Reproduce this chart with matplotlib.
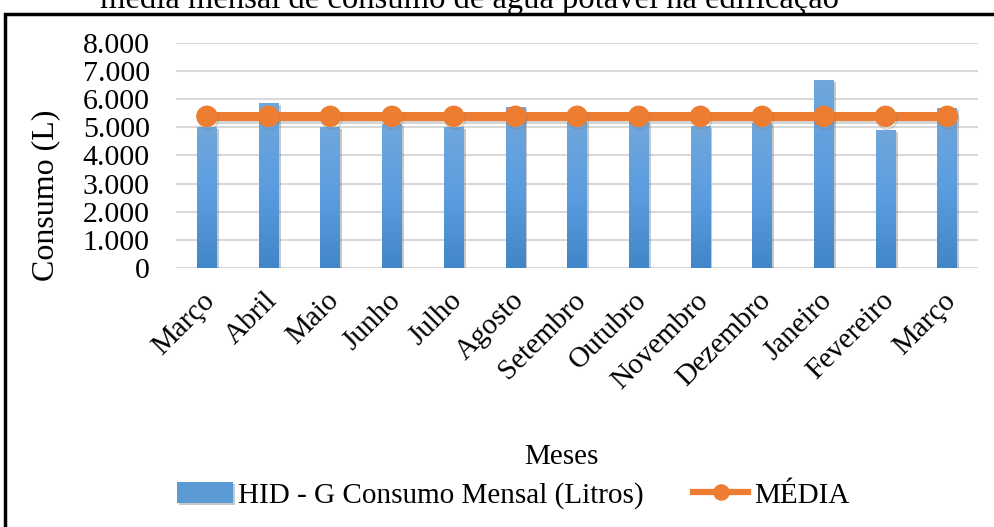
import numpy as np
import matplotlib.pyplot as plt
import matplotlib.patheffects as pe
import matplotlib.transforms as mtransforms
from matplotlib.patches import Rectangle
from matplotlib.colors import LinearSegmentedColormap
from matplotlib.ticker import FuncFormatter

plt.rcParams['font.family'] = ['Liberation Serif', 'DejaVu Serif']

meses = ['Março', 'Abril', 'Maio', 'Junho', 'Julho', 'Agosto', 'Setembro',
         'Outubro', 'Novembro', 'Dezembro', 'Janeiro', 'Fevereiro', 'Março']
consumo = [5020, 5860, 5000, 5120, 5000, 5710, 5200,
           5180, 5040, 5150, 6700, 4920, 5680]
media = [5390, 5390, 5390, 5390, 5390, 5390, 5390,
         5390, 5390, 5390, 5390, 5390, 5390]

fig = plt.figure(figsize=(9.95, 5.27), dpi=100)
ax = fig.add_axes([0.177, 0.4915, 0.806, 0.427])

x = np.arange(len(meses))
w = 0.32
grad = LinearSegmentedColormap.from_list('g', ['#4186c8', '#5b9de0', '#70a7dc'])
img = np.linspace(0, 1, 256).reshape(-1, 1)

bars = ax.bar(x, consumo, w, color='#5b9bd5', zorder=2, label='HID - G Consumo Mensal (Litros)',
              path_effects=[pe.SimplePatchShadow(offset=(1.5, -1.5), shadow_rgbFace='#777777', alpha=0.4),
                            pe.Normal()])
for b in bars:
    im = ax.imshow(img, cmap=grad, origin='lower', aspect='auto', zorder=2.1,
                   extent=[b.get_x(), b.get_x() + b.get_width(), 0, b.get_height()])
    im.set_clip_path(b)

ax.plot(x, media, color='#ed7d31', lw=6.5, marker='o', ms=14.5, zorder=3, label='MÉDIA',
        path_effects=[pe.SimpleLineShadow(offset=(1, -2), shadow_color='#777777', alpha=0.3),
                      pe.Normal()])

ax.set_xlim(-0.5, len(meses) - 0.5)
ax.set_ylim(0, 8000)
ax.set_yticks(np.arange(0, 8001, 1000))
ax.yaxis.set_major_formatter(FuncFormatter(lambda v, p: f'{int(v):,}'.replace(',', '.')))
ax.grid(axis='y', color='#d9d9d9', lw=1.5, zorder=0)
ax.set_axisbelow(True)
for s in ax.spines.values():
    s.set_visible(False)
ax.tick_params(length=0, labelsize=21.5)
ax.tick_params(axis='y', pad=19)
ax.set_xticks(x)
ax.set_xticklabels(meses, rotation=45, ha='right', rotation_mode='anchor', fontsize=21)
ax.tick_params(axis='x', pad=14)
shift = mtransforms.ScaledTranslation(-5 / 100, 0, fig.dpi_scale_trans)
for lab in ax.get_xticklabels():
    lab.set_transform(lab.get_transform() + shift)
ax.set_ylabel('Consumo (L)', fontsize=23)
ax.yaxis.set_label_coords(-0.145, 0.324)
ax.set_xlabel('Meses', fontsize=21)
ax.xaxis.set_label_coords(0.48, -0.78)

handles, labels = ax.get_legend_handles_labels()
leg = fig.legend(handles[::-1], labels[::-1], loc='center', bbox_to_anchor=(0.516, 0.06), ncol=2,
                 frameon=False, fontsize=21, handlelength=1.9, columnspacing=1.68,
                 handletextpad=0.2, markerscale=0.75)
for ln in leg.get_lines():
    ln.set_linewidth(4.5)
    ln.set_path_effects([])

fig.add_artist(Rectangle((5 / 995, -0.1), 1.2, 1 - 13.5 / 527 + 0.1, transform=fig.transFigure,
                         fill=False, ec='black', lw=2.5))
fig.text(0.472, 1 - 8 / 527, 'média mensal de consumo de água potável na edificação',
         ha='center', va='baseline', fontsize=23.5)

fig.savefig('out.png', dpi=100)
